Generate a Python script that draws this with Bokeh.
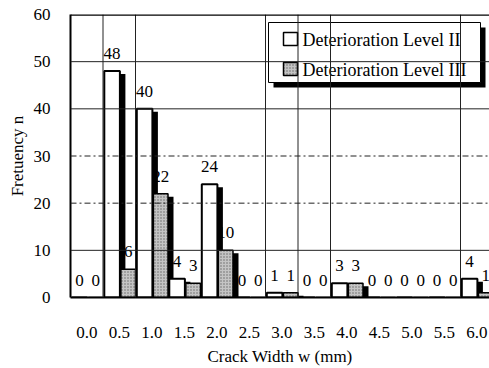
from bokeh.plotting import figure
from bokeh.models import Range1d, FixedTicker, Span
from bokeh.core.properties import value
from bokeh.embed import file_html
from bokeh.resources import INLINE

# ---- data ----
categories = ["0.0", "0.5", "1.0", "1.5", "2.0", "2.5", "3.0", "3.5", "4.0", "4.5", "5.0", "5.5", "6.0"]
level2 = [0, 48, 40, 4, 24, 0, 1, 0, 3, 0, 0, 0, 4]
level3 = [0, 6, 22, 3, 10, 0, 1, 0, 3, 0, 0, 0, 1]
y_ticks = [0, 10, 20, 30, 40, 50, 60]
series_names = ["Deterioration Level II", "Deterioration Level III"]

FONT = "Liberation Serif"
W, H = 489, 368
LEFT, TOP, BOTTOM = 70, 14, 71
FW = W - LEFT
FH = H - TOP - BOTTOM
CAT_PX = 32.5
XMAX = FW / CAT_PX
YMAX = 60

def px2x(px):
    return (px - LEFT) / CAT_PX

def px2y(py):
    return (TOP + FH - py) * YMAX / FH

p = figure(width=W, height=H, output_backend="svg", toolbar_location=None,
           x_range=Range1d(0, XMAX), y_range=Range1d(0, YMAX),
           min_border_left=LEFT, min_border_right=0, min_border_top=TOP,
           min_border_bottom=BOTTOM)
p.outline_line_color = None
p.xgrid.visible = False
p.ygrid.visible = False
p.background_fill_color = "white"
p.border_fill_color = "white"

# grid lines
for yv, dash in [(10, "solid"), (20, "6 3 2 3"), (30, "6 3 2 3"), (40, "solid"), (50, "solid")]:
    p.add_layout(Span(location=yv, dimension="width", line_color="#222222",
                      line_width=1, line_dash=dash))
for xv in [1, 2, 6, 7, 8, 12]:
    p.add_layout(Span(location=xv, dimension="height", line_color="#222222", line_width=1))
p.add_layout(Span(location=YMAX, dimension="width", line_color="black", line_width=2.5))

n = len(categories)
idx = list(range(n))
II_L, II_R = 0.04, 0.52
III_L, III_R = 0.55, 1.0
SDX = 5.5 / CAT_PX
SDY = 3 * YMAX / FH

# value labels (drawn first so bars can overlap them)
lab_x = [i + (II_L + II_R) / 2 for i in idx] + [i + (III_L + III_R) / 2 for i in idx]
lab_y = level2 + level3
lab_t = [str(v) for v in level2 + level3]
p.text(x=lab_x, y=lab_y, text=lab_t, text_font=value(FONT), text_font_size="17px",
       text_align="center", text_baseline="bottom", y_offset=-12, text_color="black")

# shadows
sh_left = [i + II_R for i in idx] + [i + III_R for i in idx]
sh_right = [i + II_R + SDX for i in idx] + [i + III_R + SDX for i in idx]
sh_top = [max(v - SDY, 0) for v in level2] + [max(v - SDY, 0) for v in level3]
p.quad(left=sh_left, right=sh_right, bottom=0, top=sh_top, fill_color="black", line_color=None)

# bars
p.quad(left=[i + II_L for i in idx], right=[i + II_R for i in idx], bottom=0, top=level2,
       fill_color="white", line_color="black", line_width=2)
p.quad(left=[i + III_L for i in idx], right=[i + III_R for i in idx], bottom=0, top=level3,
       fill_color="#c4c4c4", line_color="black", line_width=1.5,
       hatch_pattern="dot", hatch_color="#666666", hatch_scale=3, hatch_weight=1)

# legend (manual)
bx0, bx1, by0, by1 = px2x(268), px2x(480), px2y(82), px2y(22)
p.quad(left=bx0 + 5 / CAT_PX, right=bx1 + 5 / CAT_PX, bottom=by0 - 5 * YMAX / FH,
       top=by1 - 5 * YMAX / FH, fill_color="black", line_color=None)
p.quad(left=bx0, right=bx1, bottom=by0, top=by1, fill_color="white", line_color="black", line_width=1)
p.quad(left=px2x(283), right=px2x(297), bottom=px2y(45), top=px2y(32),
       fill_color="white", line_color="black", line_width=1.5)
p.quad(left=px2x(283), right=px2x(297), bottom=px2y(75), top=px2y(62),
       fill_color="#c4c4c4", line_color="black", line_width=1.5,
       hatch_pattern="dot", hatch_color="#666666", hatch_scale=3, hatch_weight=1)
p.text(x=[px2x(302), px2x(302)], y=[px2y(39), px2y(69)], text=series_names,
       text_font=value(FONT), text_font_size="18px", text_baseline="middle", text_align="left",
       text_color="black")

# axes
p.xaxis.ticker = FixedTicker(ticks=[i + 0.5 for i in idx])
p.xaxis.major_label_overrides = {i + 0.5: c for i, c in enumerate(categories)}
p.yaxis.ticker = FixedTicker(ticks=y_ticks)
for ax in (p.xaxis[0], p.yaxis[0]):
    ax.major_tick_line_color = None
    ax.minor_tick_line_color = None
    ax.axis_line_width = 2
    ax.axis_line_color = "black"
    ax.major_label_text_font = FONT
    ax.major_label_text_font_size = "17px"
    ax.major_label_text_color = "black"
    ax.axis_label_text_font = FONT
    ax.axis_label_text_font_size = "17px"
    ax.axis_label_text_font_style = "normal"
    ax.axis_label_text_color = "black"
p.xaxis.axis_label = "Crack Width w (mm)"
p.yaxis.axis_label = "Fretuency n"
p.xaxis.major_label_standoff = 23
p.xaxis.axis_label_standoff = 6
p.yaxis.major_label_standoff = 14
p.yaxis.axis_label_standoff = 4

open("out.html", "w").write(file_html(p, INLINE))
